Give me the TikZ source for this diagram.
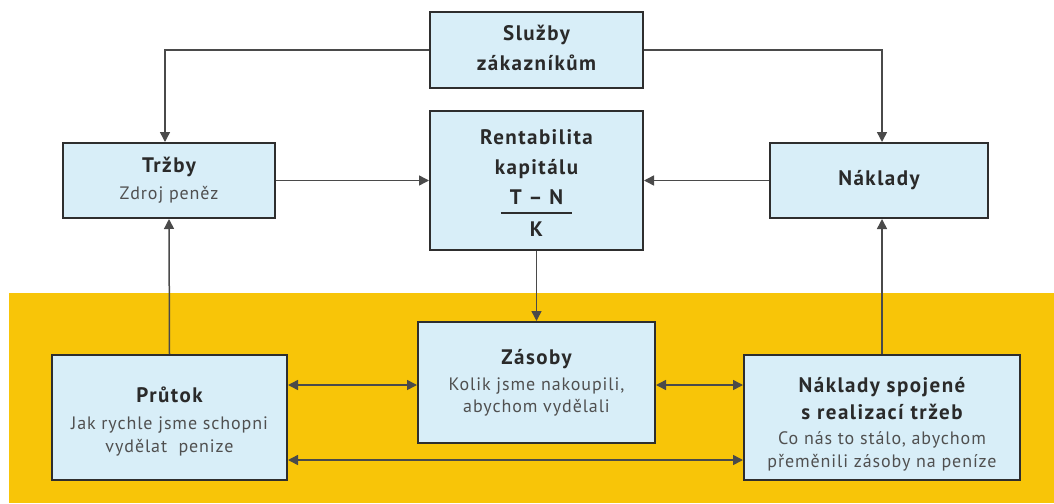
\documentclass[tikz,border=0pt]{standalone}
\usepackage{fontspec}
\setmainfont{PT Sans}
\newfontfamily\tfont[LetterSpace=7]{PT Sans}
\newfontfamily\sfont[LetterSpace=5]{PT Sans}
\usetikzlibrary{arrows.meta}
\definecolor{boxfill}{HTML}{D8EEF8}
\definecolor{boxline}{HTML}{2E2E2E}
\definecolor{yel}{HTML}{F8C508}
\definecolor{conn}{HTML}{4A4A4A}
\definecolor{ttl}{HTML}{2A2A2A}
\definecolor{sub}{HTML}{505050}
\tikzset{
  box/.style={draw=boxline, line width=2pt, fill=boxfill, inner sep=0pt, align=center,
    font=\tfont\bfseries\fontsize{21}{27}\selectfont, text=ttl},
  conn/.style={draw=conn, line width=1.5pt, -{Triangle[length=10pt,width=10pt]}},
  biconn/.style={draw=conn, line width=1.5pt, {Triangle[length=10pt,width=10pt]}-{Triangle[length=10pt,width=10pt]}},
}
\newcommand{\sbt}[1]{{\color{sub}\sfont\mdseries\fontsize{18}{23}\selectfont #1}}
\begin{document}
\begin{tikzpicture}[x=1pt,y=-1pt]
\useasboundingbox (0,0) rectangle (1054,503);
\fill[white] (0,0) rectangle (1054,503);
\fill[yel] (9,293) rectangle (1054,503);

\node[box, minimum width=213pt, minimum height=76pt] (sl) at (536.5,50) {Služby\\[3pt]zákazníkům\rule[-4pt]{0pt}{1pt}};
\node[box, minimum width=213pt, minimum height=139pt] (rent) at (536.5,180.5) {\rule{0pt}{28pt}Rentabilita\\[3pt]kapitálu\\[3pt]
  \begin{tabular}[t]{@{\hspace{9pt}}c@{\hspace{9pt}}}T – N\\\noalign{\color{boxline}\hrule height 1.8pt}\rule{0pt}{23pt}K\end{tabular}};
\node[box, minimum width=212pt, minimum height=75pt] (tr) at (169,180.5) {Tržby\\\sbt{Zdroj peněz}};
\node[box, minimum width=218pt, minimum height=75pt] (nk) at (879,180.5) {Náklady};
\node[box, minimum width=235pt, minimum height=125pt] (pr) at (169.5,417.5) {\rule{0pt}{24pt}Průtok\\\sbt{Jak rychle jsme schopni}\\[-4pt]\sbt{vydělat\ \ penize}};
\node[box, minimum width=237pt, minimum height=121pt] (zas) at (536.5,382.5) {Zásoby\\[-1pt]\sbt{Kolik jsme nakoupili,}\\[-5pt]\sbt{abychom vydělali}};
\node[box, minimum width=276pt, minimum height=125pt] (nsr) at (882,417.5) {\rule{0pt}{29pt}Náklady spojené\\s realizací tržeb\\[-2pt]\sbt{Co nás to stálo, abychom}\\[-4pt]\sbt{přeměnili zásoby na peníze}};

\draw[conn] (sl.west) -| ([xshift=-4pt]tr.north);
\draw[conn] (sl.east) -| ([xshift=3pt]nk.north);
\draw[conn] (tr.east) -- (rent.west);
\draw[conn] (nk.west) -- (rent.east);
\draw[conn] (rent.south) -- (zas.north);
\draw[conn] (pr.north) -- (tr.south);
\draw[conn] (nsr.north) -- (nsr.north |- nk.south);
\draw[biconn] ([yshift=-2.5pt]zas.west -| pr.east) -- ([yshift=-2.5pt]zas.west);
\draw[biconn] ([yshift=-2.5pt]zas.east) -- ([yshift=-2.5pt]zas.east -| nsr.west);
\draw[biconn] ([yshift=-42.5pt]pr.east) -- ([yshift=-42.5pt]pr.east -| nsr.west);
\end{tikzpicture}
\end{document}
